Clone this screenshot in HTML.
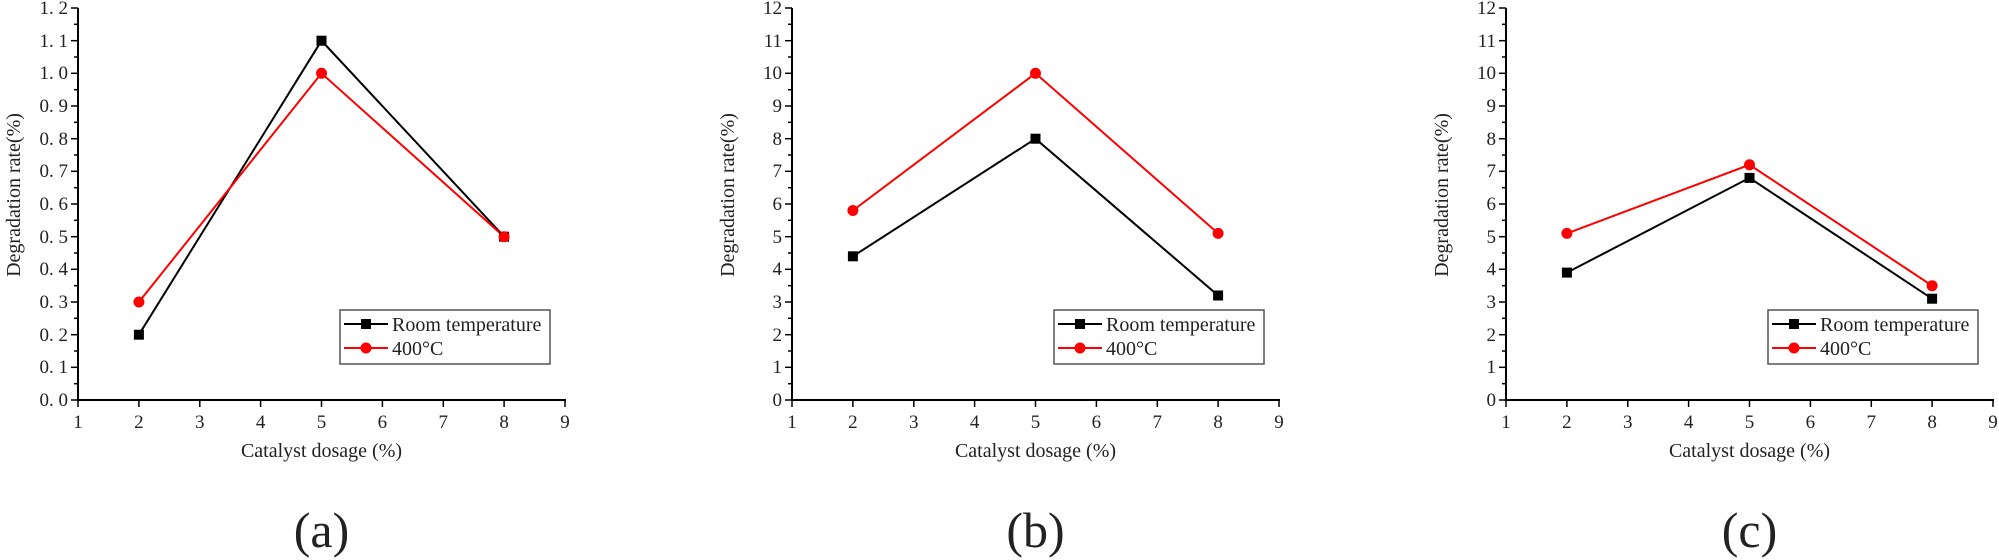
<!DOCTYPE html>
<html><head><meta charset="utf-8"><style>
html,body{margin:0;padding:0;background:#fff;}
svg{display:block;}
text{font-family:"Liberation Serif",serif;fill:#222;}
</style></head><body>
<svg width="1999" height="560" viewBox="0 0 1999 560" xmlns="http://www.w3.org/2000/svg">
<defs>
<g id="axes">
  <line x1="0" y1="8" x2="0" y2="401" stroke="#000" stroke-width="2"/>
  <line x1="-1" y1="400" x2="488" y2="400" stroke="#000" stroke-width="2"/>
  <g stroke="#000" stroke-width="1.5">
    <line x1="-7" y1="400" x2="0" y2="400"/><line x1="-7" y1="367.3" x2="0" y2="367.3"/><line x1="-7" y1="334.7" x2="0" y2="334.7"/><line x1="-7" y1="302" x2="0" y2="302"/><line x1="-7" y1="269.3" x2="0" y2="269.3"/><line x1="-7" y1="236.7" x2="0" y2="236.7"/><line x1="-7" y1="204" x2="0" y2="204"/><line x1="-7" y1="171.3" x2="0" y2="171.3"/><line x1="-7" y1="138.7" x2="0" y2="138.7"/><line x1="-7" y1="106" x2="0" y2="106"/><line x1="-7" y1="73.3" x2="0" y2="73.3"/><line x1="-7" y1="40.7" x2="0" y2="40.7"/><line x1="-7" y1="8" x2="0" y2="8"/>
    <line x1="-4" y1="383.7" x2="0" y2="383.7"/><line x1="-4" y1="351" x2="0" y2="351"/><line x1="-4" y1="318.3" x2="0" y2="318.3"/><line x1="-4" y1="285.7" x2="0" y2="285.7"/><line x1="-4" y1="253" x2="0" y2="253"/><line x1="-4" y1="220.3" x2="0" y2="220.3"/><line x1="-4" y1="187.7" x2="0" y2="187.7"/><line x1="-4" y1="155" x2="0" y2="155"/><line x1="-4" y1="122.3" x2="0" y2="122.3"/><line x1="-4" y1="89.7" x2="0" y2="89.7"/><line x1="-4" y1="57" x2="0" y2="57"/><line x1="-4" y1="24.3" x2="0" y2="24.3"/>
    <line x1="0" y1="400" x2="0" y2="407"/><line x1="60.9" y1="400" x2="60.9" y2="407"/><line x1="121.8" y1="400" x2="121.8" y2="407"/><line x1="182.6" y1="400" x2="182.6" y2="407"/><line x1="243.5" y1="400" x2="243.5" y2="407"/><line x1="304.4" y1="400" x2="304.4" y2="407"/><line x1="365.3" y1="400" x2="365.3" y2="407"/><line x1="426.1" y1="400" x2="426.1" y2="407"/><line x1="487" y1="400" x2="487" y2="407"/>
  </g>
  <g font-size="19" text-anchor="middle">
    <text x="0" y="428">1</text><text x="60.9" y="428">2</text><text x="121.8" y="428">3</text><text x="182.6" y="428">4</text><text x="243.5" y="428">5</text><text x="304.4" y="428">6</text><text x="365.3" y="428">7</text><text x="426.1" y="428">8</text><text x="487" y="428">9</text>
  </g>
  <text x="243.5" y="457" font-size="20" text-anchor="middle">Catalyst dosage (%)</text>
  <text transform="translate(-58,195) rotate(-90)" font-size="20" text-anchor="middle">Degradation rate(%)</text>
  <rect x="262" y="310" width="210" height="54" fill="#fff" stroke="#555" stroke-width="1.5"/>
  <line x1="266" y1="324" x2="310" y2="324" stroke="#000" stroke-width="2"/>
  <rect x="283" y="319" width="10" height="10" fill="#000"/>
  <text x="314" y="331" font-size="20">Room temperature</text>
  <line x1="266" y1="348" x2="310" y2="348" stroke="red" stroke-width="2"/>
  <circle cx="288" cy="348" r="5.5" fill="red"/>
  <text x="314" y="355" font-size="20">400°C</text>
</g>
</defs>

<!-- Panel a -->
<g transform="translate(78,0)">
  <use href="#axes"/>
  <g font-size="19" text-anchor="end">
    <text x="-10" y="406">0. 0</text><text x="-10" y="373">0. 1</text><text x="-10" y="341">0. 2</text><text x="-10" y="308">0. 3</text><text x="-10" y="275">0. 4</text><text x="-10" y="243">0. 5</text><text x="-10" y="210">0. 6</text><text x="-10" y="177">0. 7</text><text x="-10" y="145">0. 8</text><text x="-10" y="112">0. 9</text><text x="-10" y="79">1. 0</text><text x="-10" y="47">1. 1</text><text x="-10" y="14">1. 2</text>
  </g>
  <polyline points="60.9,334.7 243.5,40.7 426.1,236.7" fill="none" stroke="#000" stroke-width="2"/>
  <polyline points="60.9,302 243.5,73.3 426.1,236.7" fill="none" stroke="red" stroke-width="2"/>
  <rect x="55.9" y="329.7" width="10" height="10" fill="#000"/><rect x="238.5" y="35.7" width="10" height="10" fill="#000"/><rect x="421.1" y="231.7" width="10" height="10" fill="#000"/>
  <circle cx="60.9" cy="302" r="5.5" fill="red"/><circle cx="243.5" cy="73.3" r="5.5" fill="red"/><circle cx="426.1" cy="236.7" r="5.5" fill="red"/>
  <text x="243.5" y="547" font-size="50" text-anchor="middle">(a)</text>
</g>

<!-- Panel b -->
<g transform="translate(792,0)">
  <use href="#axes"/>
  <g font-size="19" text-anchor="end">
    <text x="-10" y="406">0</text><text x="-10" y="373">1</text><text x="-10" y="341">2</text><text x="-10" y="308">3</text><text x="-10" y="275">4</text><text x="-10" y="243">5</text><text x="-10" y="210">6</text><text x="-10" y="177">7</text><text x="-10" y="145">8</text><text x="-10" y="112">9</text><text x="-10" y="79">10</text><text x="-10" y="47">11</text><text x="-10" y="14">12</text>
  </g>
  <polyline points="60.9,256.3 243.5,138.7 426.1,295.5" fill="none" stroke="#000" stroke-width="2"/>
  <polyline points="60.9,210.5 243.5,73.3 426.1,233.4" fill="none" stroke="red" stroke-width="2"/>
  <rect x="55.9" y="251.3" width="10" height="10" fill="#000"/><rect x="238.5" y="133.7" width="10" height="10" fill="#000"/><rect x="421.1" y="290.5" width="10" height="10" fill="#000"/>
  <circle cx="60.9" cy="210.5" r="5.5" fill="red"/><circle cx="243.5" cy="73.3" r="5.5" fill="red"/><circle cx="426.1" cy="233.4" r="5.5" fill="red"/>
  <text x="243.5" y="547" font-size="50" text-anchor="middle">(b)</text>
</g>

<!-- Panel c -->
<g transform="translate(1506,0)">
  <use href="#axes"/>
  <g font-size="19" text-anchor="end">
    <text x="-10" y="406">0</text><text x="-10" y="373">1</text><text x="-10" y="341">2</text><text x="-10" y="308">3</text><text x="-10" y="275">4</text><text x="-10" y="243">5</text><text x="-10" y="210">6</text><text x="-10" y="177">7</text><text x="-10" y="145">8</text><text x="-10" y="112">9</text><text x="-10" y="79">10</text><text x="-10" y="47">11</text><text x="-10" y="14">12</text>
  </g>
  <polyline points="60.9,272.6 243.5,177.9 426.1,298.7" fill="none" stroke="#000" stroke-width="2"/>
  <polyline points="60.9,233.4 243.5,164.8 426.1,285.7" fill="none" stroke="red" stroke-width="2"/>
  <rect x="55.9" y="267.6" width="10" height="10" fill="#000"/><rect x="238.5" y="172.9" width="10" height="10" fill="#000"/><rect x="421.1" y="293.7" width="10" height="10" fill="#000"/>
  <circle cx="60.9" cy="233.4" r="5.5" fill="red"/><circle cx="243.5" cy="164.8" r="5.5" fill="red"/><circle cx="426.1" cy="285.7" r="5.5" fill="red"/>
  <text x="243.5" y="547" font-size="50" text-anchor="middle">(c)</text>
</g>
</svg>
</body></html>
